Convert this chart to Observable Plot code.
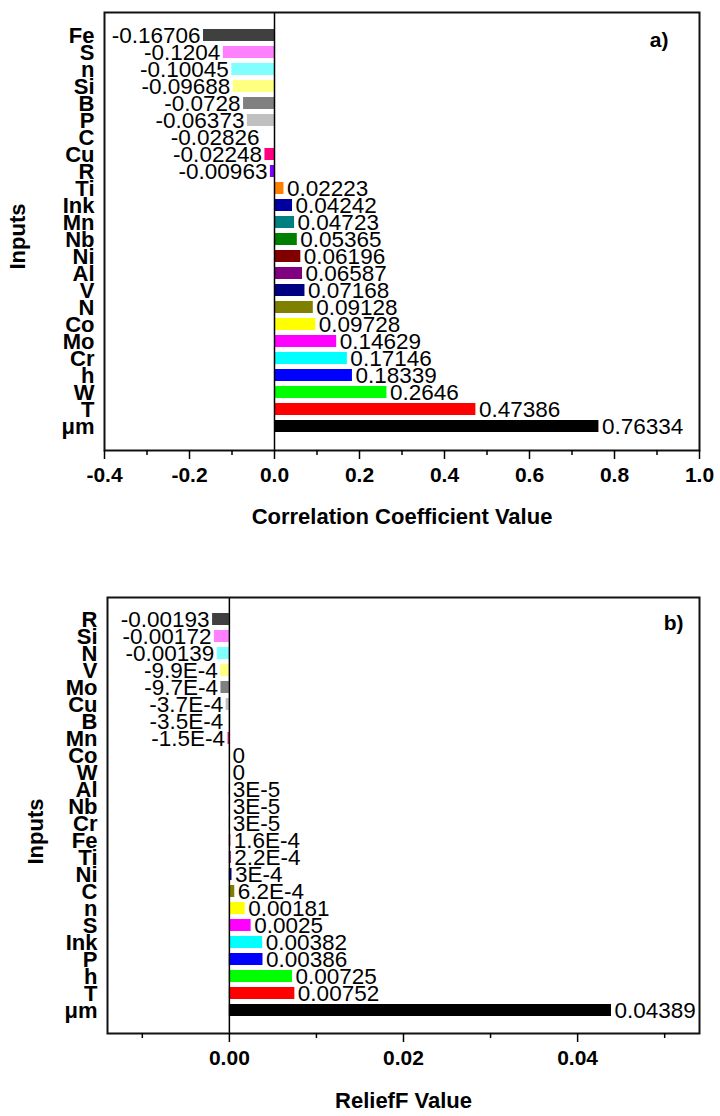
<!DOCTYPE html>
<html>
<head>
<meta charset="utf-8">
<script src="https://cdn.jsdelivr.net/npm/d3@7"></script>
<script src="https://cdn.jsdelivr.net/npm/@observablehq/plot@0.6"></script>
<style>
  body { margin: 0; background: #fff; }
  #chart svg { display: block; }
</style>
</head>
<body>
<div id="chart"></div>
<script>
// Panel a: correlation coefficient of each input, top to bottom
const corrInputs = ["Fe","S","n","Si","B","P","C","Cu","R","Ti","Ink","Mn","Nb","Ni","Al","V","N","Co","Mo","Cr","h","W","T","μm"];
const corrValues = [-0.16706,-0.1204,-0.10045,-0.09688,-0.0728,-0.06373,-0.02826,-0.02248,-0.00963,
  0.02223,0.04242,0.04723,0.05365,0.06196,0.06587,0.07168,0.09128,0.09728,0.14629,0.17146,0.18339,0.2646,0.47386,0.76334];
const corrTicks = [-0.4,-0.2,0,0.2,0.4,0.6,0.8,1.0];
const corrMinorTicks = [-0.3,-0.1,0.1,0.3,0.5,0.7,0.9];

// Panel b: ReliefF weight of each input, top to bottom
const reliefInputs = ["R","Si","N","V","Mo","Cu","B","Mn","Co","W","Al","Nb","Cr","Fe","Ti","Ni","C","n","S","Ink","P","h","T","μm"];
const reliefValues = [-0.00193,-0.00172,-0.00139,-0.00099,-0.00097,-0.00037,-0.00035,-0.00015,0,0,
  0.00003,0.00003,0.00003,0.00016,0.00022,0.0003,0.00062,0.00181,0.0025,0.00382,0.00386,0.00725,0.00752,0.04389];
const reliefTicks = [0,0.02,0.04];
const reliefMinorTicks = [-0.01,0.01,0.03,0.05];

// Origin's default colour list, handed out from the bottom bar upward
const palette = ["#000000","#ff0000","#00ff00","#0000ff","#00ffff","#ff00ff","#ffff00","#808000",
  "#000080","#800080","#800000","#008000","#008080","#0000a0","#ff8000","#8000ff",
  "#ff0080","#ffffff","#c0c0c0","#808080","#ffff80","#80ffff","#ff80ff","#404040"];

// Origin-style value text: small magnitudes in E notation
const fmtValue = v => (v !== 0 && Math.abs(v) < 0.001)
  ? v.toExponential().replace("e", "E").replace("E+", "E")
  : String(v);

const font = "'Liberation Sans', Arial, Helvetica, sans-serif";

function panel(o) {
  const rows = o.inputs.map((name, i) => ({name, value: o.values[i]}));
  return Plot.plot({
    width: 720,
    height: o.height,
    marginTop: o.marginTop,
    marginBottom: o.marginBottom,
    marginLeft: o.marginLeft,
    marginRight: 21,
    style: {fontFamily: font, background: "#fff", color: "#000", overflow: "visible"},
    x: {domain: o.domain},
    y: {domain: o.inputs, paddingInner: 0.27, paddingOuter: 0.6},
    color: {domain: o.inputs.slice().reverse(), range: palette},
    marks: [
      Plot.barX(rows, {x1: 0, x2: "value", y: "name", fill: "name"}),
      Plot.ruleX([0], {stroke: "#000", strokeWidth: 1.5}),
      Plot.frame({stroke: "#111", strokeWidth: 2}),
      Plot.axisY({tickSize: 0, tickPadding: 10, fontSize: 22, fontWeight: "bold", label: null}),
      Plot.axisX({ticks: o.ticks, tickSize: 9, tickPadding: 8, strokeWidth: 1.5,
        tickFormat: d => d.toFixed(o.digits), fontSize: 21, fontWeight: "bold", label: null}),
      Plot.axisX({ticks: o.minor, tickSize: 5, strokeWidth: 1.5, tickFormat: () => "", label: null}),
      Plot.text(rows.filter(d => d.value < 0), {x: "value", y: "name", text: d => fmtValue(d.value),
        textAnchor: "end", dx: -3, fontSize: 22.5}),
      Plot.text(rows.filter(d => d.value >= 0), {x: "value", y: "name", text: d => fmtValue(d.value),
        textAnchor: "start", dx: 3, fontSize: 22.5}),
      Plot.text([o.title], {text: d => d, frameAnchor: "bottom", textAnchor: "middle", lineAnchor: "middle",
        dy: o.titleDy, fontSize: 22, fontWeight: "bold"}),
      Plot.text(["Inputs"], {text: d => d, frameAnchor: "left", textAnchor: "middle", lineAnchor: "middle",
        rotate: -90, dx: o.inputsDx, dy: o.inputsDy, fontSize: 22, fontWeight: "bold"}),
      Plot.text([o.tag], {text: d => d, frameAnchor: "top-right", textAnchor: "end", lineAnchor: "middle",
        dx: o.tagDx, dy: o.tagDy, fontSize: 21, fontWeight: "bold"})
    ]
  });
}

const chart = document.getElementById("chart");
chart.append(panel({
  inputs: corrInputs, values: corrValues, domain: [-0.4, 1.0],
  ticks: corrTicks, minor: corrMinorTicks, digits: 1,
  title: "Correlation Coefficient Value", tag: "a)",
  height: 540, marginTop: 12, marginBottom: 90, marginLeft: 104,
  titleDy: 66, inputsDx: -87, inputsDy: 5, tagDx: -31, tagDy: 28
}));
chart.append(panel({
  inputs: reliefInputs, values: reliefValues, domain: [-0.014, 0.054],
  ticks: reliefTicks, minor: reliefMinorTicks, digits: 2,
  title: "ReliefF Value", tag: "b)",
  height: 576, marginTop: 57, marginBottom: 83, marginLeft: 107,
  titleDy: 67, inputsDx: -72, inputsDy: 16, tagDx: -16, tagDy: 26
}));
</script>
</body>
</html>
